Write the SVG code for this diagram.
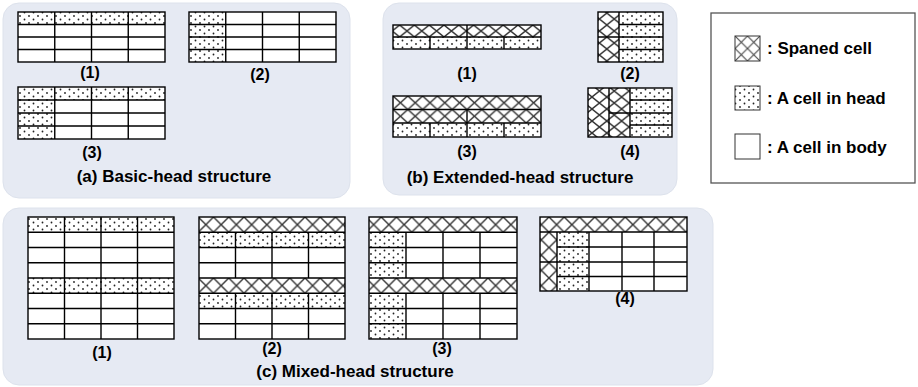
<svg xmlns="http://www.w3.org/2000/svg" width="918" height="387" viewBox="0 0 918 387">
<defs>
<pattern id="dots" patternUnits="userSpaceOnUse" width="9" height="7">
<rect width="9" height="7" fill="#fff"/>
<circle cx="2" cy="2" r="0.9" fill="#222"/>
<circle cx="6.5" cy="5.5" r="0.9" fill="#222"/>
</pattern>
<pattern id="hatchB" patternUnits="userSpaceOnUse" x="0" y="25" width="14.8" height="12">
<rect width="14.8" height="12" fill="#fff"/>
<path d="M0 0L14.8 12M14.8 0L0 12" stroke="#333" stroke-width="1.4" fill="none"/>
</pattern>
<pattern id="hatchB3" patternUnits="userSpaceOnUse" x="393" y="96" width="14.8" height="13.5">
<rect width="14.8" height="13.5" fill="#fff"/>
<path d="M0 0L14.8 13.5M14.8 0L0 13.5" stroke="#333" stroke-width="1.4" fill="none"/>
</pattern>
<pattern id="hatchC" patternUnits="userSpaceOnUse" x="0" y="217" width="15.25" height="15.25">
<rect width="15.25" height="15.25" fill="#fff"/>
<path d="M0 0L15.25 15.25M15.25 0L0 15.25" stroke="#333" stroke-width="1.4" fill="none"/>
</pattern>
<pattern id="hatchL" patternUnits="userSpaceOnUse" x="735" y="36" width="12.5" height="12.5">
<rect width="12.5" height="12.5" fill="#fff"/>
<path d="M0 0L12.5 12.5M12.5 0L0 12.5" stroke="#444" stroke-width="1.1" fill="none"/>
</pattern>
</defs>
<style>
.panel{fill:#E6EAF3;stroke:#dde2ec;stroke-width:1}
.bg{fill:#fff}
.d{fill:url(#dots)}
.hb{fill:url(#hatchB)}
.hb3{fill:url(#hatchB3)}
.hc{fill:url(#hatchC)}
.g{fill:none;stroke:#000;stroke-width:1.4}
.o{fill:none;stroke:#000;stroke-width:1.4}
text{font-family:"Liberation Sans",Arial,Helvetica,sans-serif;font-weight:bold;fill:#000}
.num{font-size:16px;text-anchor:middle}
.cap{font-size:17px;text-anchor:middle}
.leg{font-size:17px}
</style>
<g id="panel-a">
<rect class="panel" x="3" y="3" width="347" height="195" rx="16"/>
<g id="a1">
<rect class="bg" x="18" y="12" width="147" height="50"/>
<rect class="d" x="18" y="12" width="147" height="12.5"/>
<path class="g" d="M54.75 12V62M91.5 12V62M128.25 12V62M18 24.5H165M18 37H165M18 49.5H165"/>
<rect class="o" x="18" y="12" width="147" height="50"/>
<text class="num" x="90" y="78">(1)</text>
</g>
<g id="a2">
<rect class="bg" x="189" y="12" width="147" height="50"/>
<rect class="d" x="189" y="12" width="36.75" height="50"/>
<path class="g" d="M225.75 12V62M262.5 12V62M299.25 12V62M189 24.5H336M189 37H336M189 49.5H336"/>
<rect class="o" x="189" y="12" width="147" height="50"/>
<text class="num" x="260" y="80">(2)</text>
</g>
<g id="a3">
<rect class="bg" x="18" y="87" width="147" height="52"/>
<rect class="d" x="18" y="87" width="147" height="13"/>
<rect class="d" x="18" y="100" width="36.75" height="39"/>
<path class="g" d="M54.75 87V139M91.5 87V139M128.25 87V139M18 100H165M18 113H165M18 126H165"/>
<rect class="o" x="18" y="87" width="147" height="52"/>
<text class="num" x="92" y="158">(3)</text>
</g>
<text class="cap" x="174" y="182">(a) Basic-head structure</text>
</g>
<g id="panel-b">
<rect class="panel" x="383" y="3" width="294" height="192" rx="16"/>
<g id="b1">
<rect class="bg" x="393" y="25" width="148" height="24"/>
<rect class="hb" x="393" y="25" width="148" height="12"/>
<rect class="d" x="393" y="37" width="148" height="12"/>
<path class="g" d="M393 37H541M467 25V49M430 37V49M504 37V49"/>
<rect class="o" x="393" y="25" width="148" height="24"/>
<text class="num" x="467" y="79">(1)</text>
</g>
<g id="b2">
<rect class="bg" x="598" y="12" width="65" height="50"/>
<rect class="hb" x="598" y="12" width="21" height="50"/>
<rect class="d" x="619" y="12" width="44" height="50"/>
<path class="g" d="M619 12V62M598 37H619M619 24.5H663M619 37H663M619 49.5H663"/>
<rect class="o" x="598" y="12" width="65" height="50"/>
<text class="num" x="630" y="79">(2)</text>
</g>
<g id="b3">
<rect class="bg" x="393" y="96" width="148" height="41"/>
<rect class="hb3" x="393" y="96" width="148" height="27"/>
<rect class="d" x="393" y="123" width="148" height="14"/>
<path class="g" d="M393 109.5H541M393 123H541M467 109.5V137M430 123V137M504 123V137"/>
<rect class="o" x="393" y="96" width="148" height="41"/>
<text class="num" x="467" y="157">(3)</text>
</g>
<g id="b4">
<rect class="bg" x="588" y="88" width="84" height="49"/>
<rect class="hb" x="588" y="88" width="42" height="49"/>
<rect class="d" x="630" y="88" width="42" height="49"/>
<path class="g" d="M609 88V137M630 88V137M609 113H630M630 100H672M630 113H672M630 125H672"/>
<rect class="o" x="588" y="88" width="84" height="49"/>
<text class="num" x="630" y="157">(4)</text>
</g>
<text class="cap" x="520" y="183">(b) Extended-head structure</text>
</g>
<g id="legend">
<rect x="711" y="13" width="204" height="170" fill="#fff" stroke="#555" stroke-width="1.3"/>
<rect x="735" y="36" width="25" height="25" fill="url(#hatchL)" stroke="#333" stroke-width="1"/>
<text class="leg" x="767" y="54">: Spaned cell</text>
<rect x="735" y="86" width="25" height="24" fill="url(#dots)" stroke="#333" stroke-width="1"/>
<text class="leg" x="767" y="104">: A cell in head</text>
<rect x="735" y="134" width="25" height="25" fill="#fff" stroke="#333" stroke-width="1"/>
<text class="leg" x="767" y="153">: A cell in body</text>
</g>
<g id="panel-c">
<rect class="panel" x="3" y="208" width="710" height="177" rx="16"/>
<g id="c1">
<rect class="bg" x="28" y="217" width="146" height="122"/>
<rect class="d" x="28" y="217" width="146" height="15.25"/>
<rect class="d" x="28" y="278" width="146" height="15.25"/>
<path class="g" d="M28 232.25H174M28 247.5H174M28 262.75H174M28 278H174M28 293.25H174M28 308.5H174M28 323.75H174M64.5 217V339M101 217V339M137.5 217V339"/>
<rect class="o" x="28" y="217" width="146" height="122"/>
<text class="num" x="102" y="358">(1)</text>
</g>
<g id="c2">
<rect class="bg" x="199" y="217" width="146" height="122"/>
<rect class="hc" x="199" y="217" width="146" height="15.25"/>
<rect class="hc" x="199" y="278" width="146" height="15.25"/>
<rect class="d" x="199" y="232.25" width="146" height="15.25"/>
<rect class="d" x="199" y="293.25" width="146" height="15.25"/>
<path class="g" d="M199 232.25H345M199 247.5H345M199 262.75H345M199 278H345M199 293.25H345M199 308.5H345M199 323.75H345M235.5 232.25V278M272 232.25V278M308.5 232.25V278M235.5 293.25V339M272 293.25V339M308.5 293.25V339"/>
<rect class="o" x="199" y="217" width="146" height="122"/>
<text class="num" x="272" y="354">(2)</text>
</g>
<g id="c3">
<rect class="bg" x="369" y="217" width="148" height="122"/>
<rect class="hc" x="369" y="217" width="148" height="15.25"/>
<rect class="hc" x="369" y="278" width="148" height="15.25"/>
<rect class="d" x="369" y="232.25" width="37" height="45.75"/>
<rect class="d" x="369" y="293.25" width="37" height="45.75"/>
<path class="g" d="M369 232.25H517M369 247.5H517M369 262.75H517M369 278H517M369 293.25H517M369 308.5H517M369 323.75H517M406 232.25V278M443 232.25V278M480 232.25V278M406 293.25V339M443 293.25V339M480 293.25V339"/>
<rect class="o" x="369" y="217" width="148" height="122"/>
<text class="num" x="442" y="354">(3)</text>
</g>
<g id="c4">
<rect class="bg" x="540" y="217" width="147" height="74"/>
<rect class="hc" x="540" y="217" width="147" height="15"/>
<rect class="hc" x="540" y="232" width="17" height="59"/>
<rect class="d" x="557" y="232" width="32" height="59"/>
<path class="g" d="M540 232H687M557 247H687M540 262H687M557 276.5H687M557 232V291M589 232V291M622 232V291M654 232V291"/>
<rect class="o" x="540" y="217" width="147" height="74"/>
<text class="num" x="625" y="304">(4)</text>
</g>
<text class="cap" x="355" y="377">(c) Mixed-head structure</text>
</g>
</svg>
